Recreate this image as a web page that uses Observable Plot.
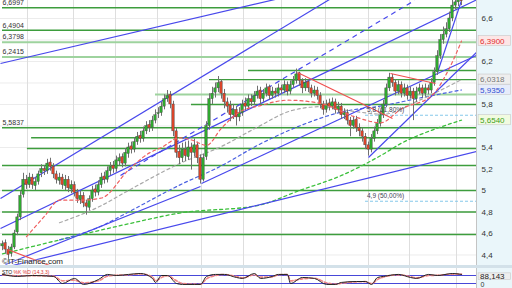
<!DOCTYPE html>
<html><head><meta charset="utf-8">
<script src="https://cdn.jsdelivr.net/npm/d3@7"></script>
<script src="https://cdn.jsdelivr.net/npm/@observablehq/plot@0.6"></script>
<style>
body{margin:0;background:#fff}
#wrap{position:relative;width:512px;height:288px;overflow:hidden;font-family:"Liberation Sans",Arial,sans-serif;background:#fff}
#axisbg{position:absolute;left:476px;top:0;width:36px;height:288px;background:#eaf6fa;border-left:1px solid #c4c4c4;box-sizing:border-box}
#main{position:absolute;left:0;top:0}
#sep{position:absolute;left:0;top:265px;width:512px;height:3px;background:#d3e1e9}
#osc{position:absolute;left:0;top:268px}
#wm{position:absolute;left:2px;top:257px;font-size:8px;color:#222;text-shadow:0 0 2px #fff,0 0 2px #fff}
#osclab{position:absolute;left:2px;top:269px;font-size:5px;color:#222}
#osclab span{color:#d33}
</style></head>
<body><div id="wrap">
<div id="axisbg"></div>
<div id="main"></div>
<div id="sep"></div>
<div id="osc"></div>
<div id="wm">©IT-Finance.com</div>
<div id="osclab">STO <span>%K %D (14,3,3)</span></div>
</div>
<script>
// ---- candles (index 0..153) ----
const opens=[4.48,4.51,4.45,4.41,4.47,4.61,4.75,4.96,5.10,5.05,
5.12,5.04,5.08,5.16,5.20,5.18,5.26,5.22,5.15,5.09,
5.12,5.04,5.10,5.01,5.05,4.98,4.91,4.95,4.88,4.84,
4.92,5.01,4.98,5.05,5.13,5.10,5.18,5.23,5.20,5.27,
5.31,5.25,5.34,5.41,5.38,5.45,5.51,5.48,5.55,5.61,
5.58,5.65,5.71,5.72,5.78,5.85,5.89,5.80,5.55,5.36,
5.30,5.38,5.31,5.40,5.35,5.42,5.30,5.10,5.31,5.60,
5.85,5.91,5.95,6.01,5.90,5.82,5.79,5.70,5.75,5.68,
5.72,5.81,5.78,5.85,5.82,5.88,5.93,5.85,5.90,5.96,
5.88,5.92,5.90,5.95,5.93,5.98,5.92,5.98,6.02,6.09,
6.02,5.95,6.01,5.95,5.90,5.93,5.88,5.80,5.75,5.81,
5.78,5.82,5.75,5.78,5.70,5.72,5.65,5.60,5.66,5.58,
5.55,5.50,5.42,5.38,5.48,5.55,5.62,5.70,5.80,5.95,
6.05,6.00,5.92,5.98,5.90,5.95,5.88,5.92,5.85,5.92,
5.95,5.90,5.95,5.93,6.00,6.10,6.25,6.40,6.45,6.50,
6.60,6.72,6.75,6.81];
const closes=[4.50,4.45,4.40,4.47,4.60,4.75,4.95,5.10,5.05,5.12,
5.05,5.08,5.15,5.20,5.18,5.25,5.22,5.15,5.10,5.12,
5.05,5.10,5.02,5.05,4.98,4.92,4.95,4.88,4.85,4.92,
5.00,4.98,5.05,5.12,5.10,5.18,5.22,5.20,5.28,5.30,
5.25,5.35,5.40,5.38,5.45,5.50,5.48,5.55,5.60,5.58,
5.65,5.70,5.72,5.78,5.85,5.88,5.80,5.55,5.35,5.30,
5.38,5.32,5.40,5.35,5.42,5.30,5.10,5.30,5.60,5.85,
5.90,5.95,6.00,5.90,5.82,5.78,5.70,5.75,5.68,5.72,
5.80,5.78,5.85,5.82,5.88,5.92,5.85,5.90,5.95,5.88,
5.92,5.90,5.95,5.93,5.98,5.92,5.98,6.02,6.08,6.02,
5.95,6.00,5.95,5.90,5.93,5.88,5.80,5.75,5.80,5.78,
5.82,5.75,5.78,5.70,5.72,5.65,5.60,5.65,5.58,5.55,
5.50,5.42,5.38,5.48,5.55,5.62,5.70,5.80,5.95,6.05,
6.00,5.92,5.98,5.90,5.95,5.88,5.92,5.85,5.92,5.95,
5.90,5.95,5.93,6.00,6.10,6.25,6.40,6.45,6.50,6.60,
6.72,6.75,6.80,6.76];
const highs=[4.53,4.54,4.48,4.50,4.63,4.78,4.99,5.16,5.14,5.16,
5.15,5.12,5.18,5.24,5.23,5.29,5.30,5.25,5.18,5.16,
5.15,5.14,5.13,5.09,5.08,5.01,4.99,4.98,4.91,4.95,
5.04,5.05,5.09,5.16,5.17,5.22,5.26,5.27,5.32,5.34,
5.34,5.39,5.44,5.45,5.49,5.54,5.55,5.59,5.64,5.65,
5.69,5.75,5.77,5.82,5.89,5.93,5.92,5.83,5.58,5.42,
5.44,5.45,5.46,5.44,5.48,5.45,5.33,5.34,5.64,5.90,
5.96,6.00,6.06,6.03,5.94,5.86,5.83,5.80,5.78,5.77,
5.84,5.86,5.89,5.89,5.92,5.97,5.96,5.94,5.99,5.98,
5.96,5.95,5.99,5.98,6.02,6.01,6.02,6.06,6.13,6.10,
6.04,6.04,6.03,5.98,5.97,5.96,5.91,5.83,5.84,5.85,
5.86,5.85,5.82,5.81,5.76,5.75,5.68,5.69,5.69,5.62,
5.58,5.53,5.45,5.52,5.59,5.66,5.74,5.84,5.99,6.09,
6.08,6.03,6.02,6.01,5.99,5.98,5.96,5.95,5.96,5.99,
5.98,5.99,5.98,6.04,6.14,6.30,6.45,6.52,6.56,6.66,
6.78,6.80,6.85,6.84];
const lows=[4.44,4.41,4.33,4.38,4.45,4.58,4.72,4.93,5.01,5.02,
5.01,5.00,5.05,5.12,5.14,5.15,5.18,5.11,5.06,5.05,
5.01,5.00,4.98,4.97,4.94,4.88,4.87,4.84,4.77,4.81,
4.89,4.94,4.95,5.02,5.06,5.07,5.14,5.16,5.17,5.23,
5.21,5.22,5.30,5.34,5.35,5.42,5.44,5.45,5.52,5.54,
5.55,5.62,5.67,5.69,5.75,5.82,5.76,5.50,5.30,5.24,
5.26,5.27,5.28,5.19,5.31,5.25,5.06,5.08,5.28,5.56,
5.80,5.86,5.91,5.85,5.76,5.72,5.64,5.66,5.60,5.64,
5.69,5.74,5.75,5.78,5.79,5.85,5.80,5.82,5.87,5.84,
5.85,5.86,5.87,5.89,5.90,5.88,5.89,5.95,5.99,5.97,
5.90,5.92,5.91,5.86,5.87,5.84,5.76,5.70,5.72,5.74,
5.75,5.71,5.72,5.66,5.66,5.61,5.50,5.57,5.54,5.50,
5.45,5.38,5.32,5.35,5.45,5.52,5.59,5.67,5.77,5.92,
5.96,5.88,5.89,5.86,5.87,5.84,5.85,5.65,5.82,5.89,
5.86,5.87,5.89,5.90,5.97,6.07,6.22,6.36,6.42,6.47,
6.57,6.68,6.71,6.72];

// ---- horizontal support / resistance levels ----
const levels=[6.6997,6.4904,6.3798,6.2415,6.116,6.0318,5.893,5.80,5.5837,5.49,5.39,5.233,5.0,4.80,4.59];
const levelStart=[0,0,0,0,82,69,51,63,0,9.7,8.3,0,0,0,0];
const levelTone=["d","d","l","l","d","d","l","d","d","d","d","d","d","d","d"];
const levelLabelVals=[6.6997,6.4904,6.3798,6.2415,5.5837];

// ---- fibonacci levels ----
const fibVals=[5.70,4.90];
const fibStart=[121,121];
const fibLabels=["5,8 (61,80%)","4,9 (50,00%)"];

// ---- trend lines [x1,y1,x2,y2] in (bar index, price) ----
const blueLines=[[-0.67,6.181,158,7.214],[-0.67,4.926,140,7.30],[-0.67,4.647,158,6.773],
[66.33,5.065,158,6.256],[-0.67,4.274,158,5.363],[1,4.312,66,5.037],[122,5.307,158,6.284],[145,6.098,153.33,6.795]];
const blueDashLines=[[39.33,5.140,137.33,6.767]];
const redLines=[[98.33,6.098,130,5.670],[129.33,6.088,144.33,5.995],[1.67,4.451,18.33,4.274]];

// ---- moving averages ----
const redMAx=[8,14,19,26,33,42,49,53,59,63,68,73,79,86,95,106,118,126,133,143,149,153];
const redMAy=[4.57,4.76,4.91,4.91,4.93,5.19,5.35,5.40,5.49,5.47,5.42,5.58,5.73,5.79,5.84,5.81,5.68,5.63,5.76,5.88,6.14,6.39];
const grayMAx=[19,33,42,59,73,85,96,106,116,127,139,153];
const grayMAy=[4.70,4.86,5.00,5.25,5.41,5.59,5.74,5.78,5.74,5.71,5.84,6.0318];
const blueMAx=[19,33,42,59,73,85,99,113,127,139,153];
const blueMAy=[4.54,4.67,4.80,5.05,5.23,5.42,5.60,5.73,5.79,5.86,5.935];
const greenMAx=[0,19,42,59,85,99,113,127,133,143,153];
const greenMAy=[4.41,4.54,4.69,4.79,4.86,5.00,5.14,5.34,5.44,5.56,5.654];

// ---- price tags on the axis ----
const tagVals=[6.39,6.0318,5.935,5.654];
const tagText=["6,3900","6,0318","5,9350","5,6540"];
const tagFill=["#fde6e6","#eeeeee","#e6ecfb","#f1fbe0"];
const tagColor=["#e03030","#777777","#3050d0","#40a020"];

// ---- axis ----
const yGrid=[4.4,4.6,4.8,5,5.2,5.4,5.6,5.8,6,6.2,6.4,6.6];
const yTickLabels=[4.4,4.6,4.8,5,5.2,5.4,5.8,6.2,6.6];
const gridIdx=[8.33,23.67,37.67,51.67,66.33,80.33,93,107.67,122,135.67,151.33];

// ---- oscillator ----
const oscX=[0,5,10,17,20,24,27,32,35,38,42,46,50,51,53,55,58,60,64,66,68,71,74,78,80,84,86,90,92,95,96,100,104,108,111,113,118,121,123,125,127,132,136,138,142,145,150,153];
const oscK=[88,73,80,73,20,58,13,50,88,80,88,95,58,28,80,80,20,13,13,13,73,88,88,65,58,95,58,73,88,88,20,65,58,13,13,28,35,35,13,65,73,88,65,58,88,80,95,88];
const oscD=[85,78,78,75,40,45,25,40,75,82,85,92,70,40,65,78,40,20,15,14,55,80,88,72,62,85,68,70,85,88,40,55,60,25,15,22,32,34,20,50,68,85,72,62,80,82,90,90];
const oscLevels=[20,80];
const oscLast=88.143;

const fmt=v=>String(v).replace(".",",");
const candles=closes.map((c,i)=>({i,o:opens[i],h:highs[i],l:lows[i],c}));
const lvl=levels.map((v,k)=>({v,s:levelStart[k],t:levelTone[k]}));
const seg=(arr,kind)=>arr.map(a=>({x1:a[0],y1:a[1],x2:a[2],y2:a[3],kind}));
const ma=(xs,ys)=>xs.map((x,k)=>({x,y:ys[k]}));
const tags=tagVals.map((v,k)=>({v,t:tagText[k],f:tagFill[k],c:tagColor[k]}));
const XD=[-0.667,158];

const main=Plot.plot({
  width:512,height:265,marginLeft:0,marginRight:36,marginTop:0,marginBottom:0,
  x:{domain:XD,axis:null},
  y:{domain:[4.3023,6.7674]},
  style:{background:"transparent",color:"#333",fontFamily:"Liberation Sans, Arial, sans-serif",overflow:"visible"},
  marks:[
    Plot.ruleY(yGrid,{stroke:"#ececec",strokeWidth:1}),
    Plot.ruleX(gridIdx,{stroke:"#dedede",strokeWidth:1}),
    Plot.ruleY(lvl,{y:"v",x1:"s",x2:158,stroke:d=>d.t==="l"?"#9ed39e":"#3d9d3d",strokeWidth:d=>d.t==="l"?2:1.4}),
    Plot.ruleY(fibVals.map((v,k)=>({v,s:fibStart[k]})),{y:"v",x1:"s",x2:158,stroke:"#86c8ea",strokeDasharray:"3,2",strokeWidth:1}),
    Plot.line(ma(greenMAx,greenMAy),{x:"x",y:"y",stroke:"#3cc03c",strokeWidth:1.3,strokeDasharray:"3,3",curve:"monotone-x"}),
    Plot.line(ma(blueMAx,blueMAy),{x:"x",y:"y",stroke:"#4a60e0",strokeWidth:1.2,strokeDasharray:"3,3",curve:"monotone-x"}),
    Plot.line(ma(grayMAx,grayMAy),{x:"x",y:"y",stroke:"#a8a8a8",strokeWidth:1.2,strokeDasharray:"3,3",curve:"monotone-x"}),
    Plot.link(seg(blueLines,"b"),{x1:"x1",y1:"y1",x2:"x2",y2:"y2",stroke:"#4848ec",strokeWidth:1.2,clip:true}),
    Plot.link(seg(blueDashLines,"bd"),{x1:"x1",y1:"y1",x2:"x2",y2:"y2",stroke:"#4848ec",strokeWidth:1.2,strokeDasharray:"5,4",clip:true}),
    Plot.ruleX(candles,{x:"i",y1:"l",y2:"h",stroke:"#707070",strokeWidth:1,clip:true}),
    Plot.rect(candles,{x1:d=>d.i-0.4,x2:d=>d.i+0.4,y1:"o",y2:"c",fill:d=>d.c>=d.o?"#2fa82f":"#d8442a",stroke:"#444",strokeWidth:0.4,clip:true}),
    Plot.line(ma(redMAx,redMAy),{x:"x",y:"y",stroke:"#f06060",strokeWidth:1.2,strokeDasharray:"3,3",curve:"monotone-x"}),
    Plot.link(seg(redLines,"r"),{x1:"x1",y1:"y1",x2:"x2",y2:"y2",stroke:"#f05050",strokeWidth:1.2,clip:true}),
    Plot.text(levelLabelVals,{x:0,y:d=>d,text:d=>d.toFixed(4).replace(".",","),textAnchor:"start",dy:-5,fontSize:7,fill:"#333"}),
    Plot.text(fibVals.map((v,k)=>({v,t:fibLabels[k],s:fibStart[k]})),{x:d=>d.s+0.5,y:"v",text:"t",textAnchor:"start",dy:-5,fontSize:6.5,fill:"#445"}),
    Plot.axisY({anchor:"right",ticks:yTickLabels,tickSize:0,tickPadding:5,tickFormat:fmt,fontSize:8}),
    Plot.rect(tags,{x1:158.7,x2:169.5,y1:d=>d.v-0.047,y2:d=>d.v+0.047,fill:"f",stroke:"#c8c8c8",strokeWidth:0.6}),
    Plot.text(tags,{x:159.2,y:"v",text:"t",fill:"c",textAnchor:"start",fontSize:8})
  ]
});
document.getElementById("main").appendChild(main);

const osc=Plot.plot({
  width:512,height:20,marginLeft:0,marginRight:36,marginTop:0,marginBottom:0,
  x:{domain:XD,axis:null},
  y:{domain:[-17.5,132.5],axis:null},
  style:{background:"transparent",color:"#333",fontFamily:"Liberation Sans, Arial, sans-serif",overflow:"visible"},
  marks:[
    Plot.ruleX(gridIdx,{stroke:"#dedede"}),
    Plot.ruleY(oscLevels,{x1:XD[0],x2:158,stroke:"#4848d8",strokeWidth:1}),
    Plot.line(ma(oscX,oscD),{x:"x",y:"y",stroke:"#f08888",strokeWidth:1.6,strokeDasharray:"3,2",curve:"monotone-x"}),
    Plot.line(ma(oscX,oscK),{x:"x",y:"y",stroke:"#222",strokeWidth:1,curve:"monotone-x"}),
    Plot.text([0],{x:159.3,y:d=>d,text:d=>String(d),textAnchor:"start",fontSize:7,dy:-1}),
    Plot.rect([oscLast],{x1:158.7,x2:169.5,y1:d=>d-42,y2:d=>d+8,fill:"#eeeeee",stroke:"#c8c8c8",strokeWidth:0.6}),
    Plot.text([oscLast],{x:159.2,y:d=>d,text:d=>d.toFixed(3).replace(".",","),textAnchor:"start",fontSize:8,dy:2,fill:"#222"})
  ]
});
document.getElementById("osc").appendChild(osc);
</script>
</body></html>
